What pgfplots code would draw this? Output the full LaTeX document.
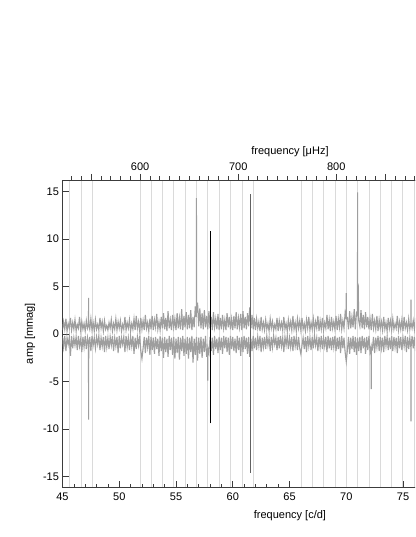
\documentclass[border=0pt]{standalone}
\usepackage{fontspec}
\setmainfont{Liberation Sans}
\usepackage{pgfplots}
\pgfplotsset{compat=1.18}
\definecolor{spec}{RGB}{158,158,158}
\definecolor{gridl}{RGB}{218,218,218}
\definecolor{axc}{RGB}{60,60,60}
\begin{document}
\begin{tikzpicture}[x=1pt,y=1pt]
\useasboundingbox (0,0) rectangle (415,537);
\clip (0,0) rectangle (415,537);
\begin{axis}[
  at={(62.5pt,50pt)}, anchor=south west, scale only axis,
  width=454pt, height=307pt,
  xmin=45, xmax=85, ymin=-16.1, ymax=16.2,
  axis line style={axc, line width=0.8pt},
  every tick/.style={axc, line width=0.7pt},
  tick align=inside,
  major tick length=6pt, minor tick length=3pt,
  xtick={45,50,...,75}, minor x tick num=4, xtick pos=bottom,
  ytick={-15,-10,...,15}, ytick pos=left,
  /pgf/number format/assume math mode=true,
  tick label style={font=\fontsize{11}{13}\selectfont},
  xticklabel style={yshift=-2pt},
  label style={font=\fontsize{11}{13}\selectfont},
  xlabel={frequency [c/d]},
  xlabel style={at={(axis description cs:0.501,-0.0945)}, anchor=center},
  ylabel={amp [mmag]},
  ylabel style={at={(axis description cs:-0.0716,0.5)}, anchor=center},
  extra x ticks={45.62,46.65,47.62,51.85,52.81,53.79,54.79,55.82,56.83,57.81,58.79,59.82,60.83,61.80,66.03,67.01,68.02,69.03,70.01,71.02,72.04,73.02,74.01,74.99},
  extra x tick labels={},
  extra x tick style={grid=major, major grid style={gridl, line width=0.8pt}, major tick length=0pt},
]
\addplot[gridl, line width=0.8pt] coordinates {(75.98,-16.1) (75.98,16.2)};
\addplot[spec, line width=1.1pt] coordinates {
(45.0,0.4) (45.1,1.3) (45.2,0.5) (45.3,1.6) (45.4,0.3) (45.5,1.1) (45.6,0.6) (45.7,1.7) (45.8,0.4) (45.9,1.2)
(46.0,0.5) (46.1,1.5) (46.2,0.3) (46.3,1.0) (46.4,0.6) (46.5,1.8) (46.6,0.4) (46.7,1.3) (46.8,0.5) (46.9,1.1)
(47.0,0.3) (47.1,1.4) (47.2,0.6) (47.29,1.0) (47.3,3.8) (47.31,1.0) (47.4,0.5) (47.5,1.6) (47.6,0.4) (47.7,1.2) (47.8,0.3) (47.9,1.5)
(48.0,0.5) (48.1,1.0) (48.2,0.4) (48.3,1.7) (48.4,0.6) (48.5,1.3) (48.6,0.3) (48.7,1.4) (48.8,0.5) (48.9,0.9)
(49.0,0.4) (49.1,1.2) (49.2,0.6) (49.3,1.5) (49.4,0.3) (49.5,1.1) (49.6,0.5) (49.7,1.6) (49.8,0.4) (49.9,1.3)
(50.0,0.6) (50.1,1.4) (50.2,0.3) (50.3,1.0) (50.4,0.5) (50.5,1.8) (50.6,0.4) (50.7,1.2) (50.8,0.6) (50.9,1.5)
(51.0,0.3) (51.1,1.1) (51.2,0.5) (51.3,1.6) (51.4,0.4) (51.5,1.9) (51.6,0.6) (51.7,1.3) (51.8,0.3) (51.9,1.7)
(52.0,0.5) (52.1,1.4) (52.2,0.4) (52.3,2.0) (52.4,0.6) (52.5,1.2) (52.6,0.3) (52.7,1.6) (52.8,0.5) (52.9,1.9)
(53.0,0.4) (53.1,1.5) (53.2,0.7) (53.3,2.1) (53.4,0.5) (53.5,1.3) (53.6,0.4) (53.7,1.8) (53.8,0.6) (53.9,2.2)
(54.0,0.5) (54.1,1.7) (54.2,0.3) (54.3,2.4) (54.4,0.6) (54.5,1.5) (54.6,0.4) (54.7,2.0) (54.8,0.7) (54.9,1.6)
(55.0,0.4) (55.1,2.2) (55.2,0.6) (55.3,1.7) (55.4,0.5) (55.5,2.6) (55.6,0.4) (55.7,1.9) (55.8,0.7) (55.9,2.3)
(56.0,0.5) (56.1,2.0) (56.2,0.6) (56.3,2.5) (56.4,0.4) (56.5,1.8) (56.6,0.7) (56.7,2.9) (56.79,1.8) (56.8,14.3) (56.81,2.2) (56.9,3.3)
(57.0,0.8) (57.1,2.7) (57.2,0.6) (57.3,2.2) (57.4,0.5) (57.5,2.5) (57.6,0.7) (57.7,1.9) (57.8,0.5) (57.9,2.4)
(58.0,0.6) (58.1,1.8) (58.2,0.4) (58.3,2.3) (58.4,0.7) (58.5,1.6) (58.6,0.5) (58.7,2.1) (58.8,0.4) (58.9,1.7)
(59.0,0.5) (59.1,2.0) (59.2,0.6) (59.3,1.5) (59.4,0.4) (59.5,2.2) (59.6,0.7) (59.7,1.8) (59.8,0.5) (59.9,1.6)
(60.0,0.4) (60.1,1.9) (60.2,0.6) (60.3,2.3) (60.4,0.5) (60.5,1.7) (60.6,0.7) (60.7,2.1) (60.8,0.4) (60.9,2.4)
(61.0,0.6) (61.1,1.8) (61.2,0.5) (61.3,2.2) (61.4,0.8) (61.5,2.8) (61.6,0.6) (61.7,2.0) (61.8,0.5) (61.9,1.7)
(62.0,0.4) (62.1,1.6) (62.2,0.6) (62.3,1.3) (62.4,0.3) (62.5,1.8) (62.6,0.5) (62.7,1.2) (62.8,0.4) (62.9,1.5)
(63.0,0.5) (63.1,1.1) (63.2,0.3) (63.3,1.6) (63.4,0.6) (63.5,1.3) (63.6,0.4) (63.7,1.0) (63.8,0.5) (63.9,1.7)
(64.0,0.3) (64.1,1.4) (64.2,0.6) (64.3,1.2) (64.4,0.4) (64.5,1.8) (64.6,0.5) (64.7,1.1) (64.8,0.3) (64.9,1.5)
(65.0,0.6) (65.1,1.3) (65.2,0.4) (65.3,1.9) (65.4,0.5) (65.5,1.2) (65.6,0.3) (65.7,1.6) (65.8,0.6) (65.9,1.4)
(66.0,0.4) (66.1,1.7) (66.2,0.5) (66.3,1.1) (66.4,0.3) (66.5,1.5) (66.6,0.6) (66.7,1.8) (66.8,0.4) (66.9,1.2)
(67.0,0.5) (67.1,1.6) (67.2,0.4) (67.3,1.3) (67.4,0.6) (67.5,1.9) (67.6,0.3) (67.7,1.4) (67.8,0.5) (67.9,1.7)
(68.0,0.4) (68.1,1.2) (68.2,0.6) (68.3,2.0) (68.4,0.5) (68.5,1.5) (68.6,0.3) (68.7,1.8) (68.8,0.6) (68.9,1.3)
(69.0,0.5) (69.1,1.9) (69.2,0.4) (69.3,1.6) (69.4,0.7) (69.5,2.1) (69.6,0.5) (69.7,1.4) (69.8,0.6) (69.9,2.2)
(69.99,1.6) (70.0,4.3) (70.01,1.6) (70.1,1.7) (70.2,0.5) (70.3,2.4) (70.4,0.6) (70.5,1.8) (70.6,0.7) (70.7,2.6) (70.8,0.5) (70.9,2.2)
(70.99,2.0) (71.0,14.9) (71.01,2.5) (71.05,5.3) (71.1,1.4) (71.2,0.8) (71.3,2.5) (71.4,0.6) (71.5,2.0) (71.6,0.5) (71.7,2.3) (71.8,0.7) (71.9,1.8)
(72.0,0.5) (72.1,1.6) (72.2,0.4) (72.3,2.1) (72.4,0.6) (72.5,1.4) (72.6,0.5) (72.7,1.9) (72.8,0.3) (72.9,1.5)
(73.0,0.6) (73.1,1.3) (73.2,0.4) (73.3,1.8) (73.4,0.5) (73.5,1.2) (73.6,0.3) (73.7,1.7) (73.8,0.6) (73.9,1.4)
(74.0,0.4) (74.1,1.6) (74.2,0.5) (74.3,1.1) (74.4,0.6) (74.5,1.9) (74.6,0.4) (74.7,1.3) (74.8,0.5) (74.9,1.5)
(75.0,0.3) (75.1,1.8) (75.2,0.6) (75.3,1.2) (75.4,0.4) (75.5,1.6) (75.6,0.5) (75.69,1.2) (75.7,3.6) (75.71,1.2) (75.8,0.6) (75.9,1.4)
(76.0,0.5) (76.1,1.7) (76.2,0.4)
};
\addplot[spec, line width=1.1pt] coordinates {
(45.0,-0.3) (45.1,-1.4) (45.2,-0.2) (45.3,-1.8) (45.4,-0.4) (45.5,-1.1) (45.6,-0.3) (45.7,-2.3) (45.8,-0.2) (45.9,-1.5)
(46.0,-0.4) (46.1,-1.2) (46.2,-0.3) (46.3,-1.7) (46.4,-0.2) (46.5,-1.3) (46.6,-0.5) (46.7,-1.9) (46.8,-0.3) (46.9,-1.4)
(47.0,-0.2) (47.1,-1.6) (47.2,-0.4) (47.29,-1.2) (47.3,-9.0) (47.31,-1.2) (47.4,-0.3) (47.5,-1.8) (47.6,-0.2) (47.7,-1.2) (47.8,-0.4) (47.9,-1.5)
(48.0,-0.3) (48.1,-1.1) (48.2,-0.2) (48.3,-1.7) (48.4,-0.4) (48.5,-1.3) (48.6,-0.3) (48.7,-1.9) (48.8,-0.2) (48.9,-1.4)
(49.0,-0.4) (49.1,-1.6) (49.2,-0.3) (49.3,-1.2) (49.4,-0.2) (49.5,-1.8) (49.6,-0.4) (49.7,-1.3) (49.8,-0.3) (49.9,-2.0)
(50.0,-0.2) (50.1,-1.5) (50.2,-0.4) (50.3,-1.1) (50.4,-0.3) (50.5,-1.9) (50.6,-0.2) (50.7,-1.4) (50.8,-0.4) (50.9,-1.7)
(51.0,-0.3) (51.1,-1.3) (51.2,-0.2) (51.3,-2.1) (51.4,-0.4) (51.5,-1.6) (51.6,-0.3) (51.7,-1.2) (51.8,-0.2) (51.9,-1.8)
(52.0,-2.6) (52.1,-1.5) (52.2,-0.3) (52.3,-2.0) (52.4,-0.4) (52.5,-1.4) (52.6,-0.2) (52.7,-2.2) (52.8,-0.3) (52.9,-1.7)
(53.0,-0.4) (53.1,-2.1) (53.2,-0.3) (53.3,-1.6) (53.4,-0.5) (53.5,-2.3) (53.6,-0.2) (53.7,-1.8) (53.8,-0.4) (53.9,-2.5)
(54.0,-0.3) (54.1,-1.9) (54.2,-0.5) (54.3,-2.4) (54.4,-0.2) (54.5,-1.7) (54.6,-0.4) (54.7,-2.2) (54.8,-0.3) (54.9,-2.6)
(55.0,-0.5) (55.1,-2.0) (55.2,-0.3) (55.3,-2.7) (55.4,-0.4) (55.5,-1.8) (55.6,-0.2) (55.7,-2.3) (55.8,-0.5) (55.9,-2.1)
(56.0,-0.3) (56.1,-2.6) (56.2,-0.4) (56.3,-1.9) (56.4,-0.2) (56.5,-3.0) (56.6,-0.5) (56.7,-2.2) (56.8,-0.3) (56.9,-2.8)
(57.0,-0.4) (57.1,-2.1) (57.2,-0.3) (57.3,-2.5) (57.4,-0.5) (57.5,-1.9) (57.6,-0.2) (57.7,-2.4) (57.79,-1.5) (57.8,-4.9) (57.81,-1.5) (57.9,-2.0)
(58.0,-0.3) (58.1,-1.8) (58.2,-0.4) (58.3,-2.2) (58.4,-0.2) (58.5,-1.6) (58.6,-0.5) (58.7,-2.0) (58.8,-0.3) (58.9,-1.7)
(59.0,-0.4) (59.1,-2.1) (59.2,-0.2) (59.3,-1.5) (59.4,-0.3) (59.5,-1.9) (59.6,-0.4) (59.7,-2.2) (59.8,-0.2) (59.9,-1.6)
(60.0,-0.3) (60.1,-1.8) (60.2,-0.5) (60.3,-2.0) (60.4,-0.2) (60.5,-1.7) (60.6,-0.4) (60.7,-2.3) (60.8,-0.3) (60.9,-1.9)
(61.0,-0.2) (61.1,-1.6) (61.2,-0.4) (61.3,-2.1) (61.4,-0.3) (61.5,-2.4) (61.6,-0.5) (61.7,-1.8) (61.8,-0.2) (61.9,-1.5)
(62.0,-0.4) (62.1,-1.7) (62.2,-0.3) (62.3,-1.3) (62.4,-0.2) (62.5,-1.9) (62.6,-0.4) (62.7,-1.4) (62.8,-0.3) (62.9,-1.6)
(63.0,-0.2) (63.1,-1.2) (63.2,-0.4) (63.3,-1.8) (63.4,-0.3) (63.5,-1.4) (63.6,-0.2) (63.7,-1.1) (63.8,-0.4) (63.9,-1.7)
(64.0,-0.3) (64.1,-1.5) (64.2,-0.2) (64.3,-1.3) (64.4,-0.4) (64.5,-1.9) (64.6,-0.3) (64.7,-1.2) (64.8,-0.2) (64.9,-1.6)
(65.0,-0.4) (65.1,-1.4) (65.2,-0.3) (65.3,-1.8) (65.4,-0.2) (65.5,-1.3) (65.6,-0.4) (65.7,-1.7) (65.8,-0.3) (65.9,-1.5)
(66.0,-2.1) (66.1,-1.2) (66.2,-0.4) (66.3,-1.6) (66.4,-0.3) (66.5,-1.9) (66.6,-0.2) (66.7,-1.3) (66.8,-0.4) (66.9,-1.7)
(67.0,-0.3) (67.1,-1.5) (67.2,-0.2) (67.3,-1.2) (67.4,-0.4) (67.5,-1.8) (67.6,-0.3) (67.7,-1.4) (67.8,-0.2) (67.9,-1.6)
(68.0,-0.4) (68.1,-1.3) (68.2,-0.3) (68.3,-1.9) (68.4,-0.2) (68.5,-1.5) (68.6,-0.4) (68.7,-1.7) (68.8,-0.3) (68.9,-1.4)
(69.0,-0.2) (69.1,-1.8) (69.2,-0.4) (69.3,-1.6) (69.4,-0.3) (69.5,-2.0) (69.6,-0.2) (69.7,-1.5) (69.8,-0.4) (69.9,-1.9)
(70.0,-2.9) (70.1,-1.7) (70.2,-0.3) (70.3,-2.1) (70.4,-0.4) (70.5,-1.6) (70.6,-0.2) (70.7,-1.9) (70.8,-0.3) (70.9,-2.2)
(71.0,-0.4) (71.1,-1.8) (71.2,-0.3) (71.3,-2.0) (71.4,-0.2) (71.5,-1.5) (71.6,-0.4) (71.7,-2.1) (71.8,-0.3) (71.9,-1.7)
(72.0,-0.2) (72.1,-1.9) (72.19,-1.4) (72.2,-5.8) (72.21,-1.4) (72.3,-1.6) (72.4,-0.3) (72.5,-2.0) (72.6,-0.4) (72.7,-1.4) (72.8,-0.2) (72.9,-1.8)
(73.0,-0.3) (73.1,-1.5) (73.2,-0.4) (73.3,-1.9) (73.4,-0.2) (73.5,-1.3) (73.6,-0.3) (73.7,-1.7) (73.8,-0.4) (73.9,-1.6)
(74.0,-0.2) (74.1,-1.8) (74.2,-0.3) (74.3,-1.4) (74.4,-0.4) (74.5,-2.0) (74.6,-0.2) (74.7,-1.5) (74.8,-0.3) (74.9,-1.7)
(75.0,-0.4) (75.1,-1.3) (75.2,-0.2) (75.3,-1.9) (75.4,-0.3) (75.5,-1.6) (75.6,-0.4) (75.69,-1.4) (75.7,-9.2) (75.71,-1.4) (75.8,-0.2) (75.9,-1.5)
(76.0,-0.3) (76.1,-1.8) (76.2,-0.2)
};
\addplot[black, line width=0.8pt] coordinates {(58.07,-9.4) (58.07,10.8)};
\addplot[black!62, line width=1.3pt] coordinates {(61.54,-14.6) (61.54,14.7)};
\end{axis}
\begin{axis}[
  at={(62.5pt,50pt)}, anchor=south west, scale only axis,
  width=454pt, height=307pt,
  xmin=520.83, xmax=983.80, ymin=0, ymax=1,
  axis x line*=top, axis y line=none,
  axis line style={axc, line width=0.8pt},
  every tick/.style={axc, line width=0.7pt},
  tick align=outside,
  major tick length=6pt, minor tick length=3.5pt,
  xtick={600,700,800}, minor xtick={530,540,...,650,660,670,680,690,710,720,...,790,810,820,...,900},
  extra x ticks={550,850}, extra x tick labels={},
  /pgf/number format/assume math mode=true,
  tick label style={font=\fontsize{11}{13}\selectfont},
  label style={font=\fontsize{11}{13}\selectfont},
  xlabel={frequency [μHz]},
  xlabel style={at={(axis description cs:0.501,1.091)}, anchor=center},
]
\addplot[draw=none] coordinates {(600,0.5)};
\end{axis}
\end{tikzpicture}
\end{document}
